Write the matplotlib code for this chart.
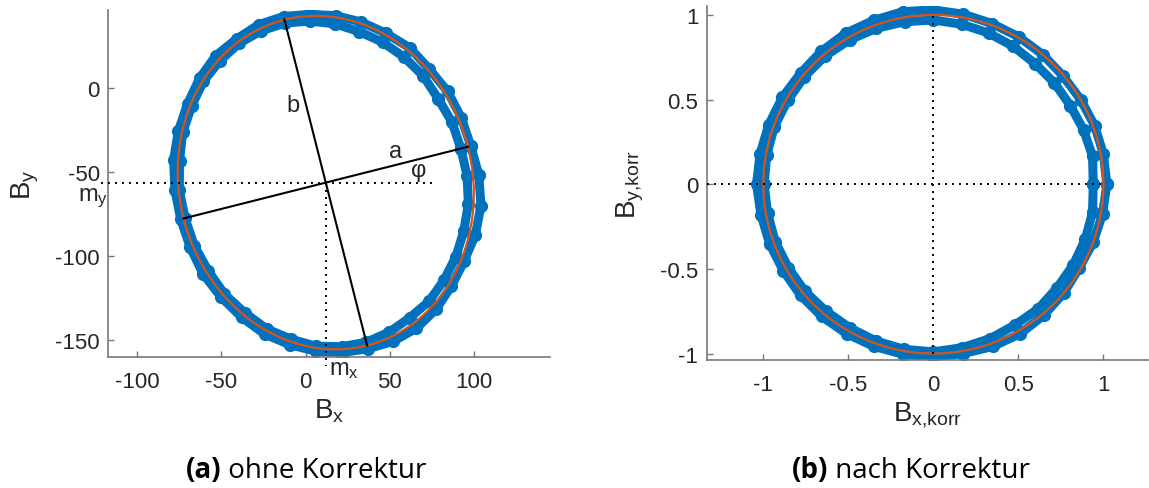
import numpy as np
import matplotlib
matplotlib.use('Agg')
import matplotlib.pyplot as plt
from matplotlib.patches import Ellipse

plt.rcParams['font.family'] = 'Liberation Sans'
plt.rcParams['mathtext.fontset'] = 'custom'
plt.rcParams['mathtext.rm'] = 'Liberation Sans'
plt.rcParams['mathtext.it'] = 'Liberation Sans:italic'
plt.rcParams['mathtext.bf'] = 'Liberation Sans:bold'
plt.rcParams['axes.unicode_minus'] = False

blue = '#0072BD'
orange = '#D95319'
txt = '#262626'

# --- raw magnetometer trace, uncorrected (two passes around the loop)
bx_raw_1 = [98.03, 92.38, 84.28, 73.38, 61.82, 47.77, 33.14, 17.85, 2.38, -13.02,
            -27.77, -40.93, -53.31, -62.83, -69.99, -75.44, -78.27, -77.50, -74.03, -68.38,
            -60.63, -49.99, -37.82, -24.31, -9.35, 6.09, 21.71, 37.02, 51.96, 65.71,
            77.31, 86.46, 93.99, 100.72, 104.02, 102.81]
by_raw_1 = [-34.73, -17.89, -2.24, 11.12, 23.73, 32.36, 39.07, 42.87, 43.66, 42.38,
            37.56, 28.97, 18.98, 5.55, -9.62, -25.76, -43.01, -60.79, -78.27, -95.11,
            -111.03, -124.79, -136.73, -146.68, -153.01, -156.86, -157.65, -155.38, -151.02, -143.22,
            -131.98, -118.25, -103.38, -87.69, -70.26, -52.14]
bx_raw_2 = [92.12, 86.86, 78.61, 69.73, 58.40, 45.65, 31.88, 17.56, 2.77, -12.04,
            -26.22, -39.37, -50.78, -60.64, -67.58, -72.88, -74.76, -74.88, -71.50, -66.01,
            -57.80, -48.16, -36.11, -23.07, -8.62, 6.27, 21.38, 36.04, 49.64, 61.81,
            73.19, 82.08, 89.16, 93.90, 96.57, 95.83]
by_raw_2 = [-36.23, -20.54, -6.49, 7.10, 18.23, 27.08, 33.39, 37.95, 39.69, 38.50,
            33.89, 26.45, 16.05, 3.74, -11.00, -26.66, -43.53, -60.67, -77.63, -93.97,
            -108.90, -122.78, -133.98, -143.60, -149.70, -153.91, -154.18, -151.50, -145.52, -136.94,
            -127.22, -114.62, -100.62, -85.29, -69.14, -52.48]

# fitted ellipse: centre, half axes, tilt (deg)
mx, my = 12.0, -56.5
a_fit, b_fit = 87.0, 100.0
phi_fit = 14.2

# --- corrected trace
bx_korr_1 = [1.020, 1.000, 0.949, 0.866, 0.762, 0.643, 0.503, 0.345, 0.177, 0.000,
             -0.180, -0.352, -0.515, -0.659, -0.781, -0.888, -0.968, -1.019, -1.040, -1.014,
             -0.963, -0.883, -0.781, -0.656, -0.510, -0.349, -0.177, 0.000, 0.176, 0.349,
             0.510, 0.649, 0.766, 0.857, 0.940, 0.995]
by_korr_1 = [0.000, 0.176, 0.345, 0.500, 0.640, 0.766, 0.870, 0.949, 1.004, 1.030,
             1.019, 0.968, 0.892, 0.785, 0.656, 0.513, 0.352, 0.180, 0.000, -0.179,
             -0.351, -0.510, -0.656, -0.781, -0.883, -0.958, -1.004, -1.020, -1.000, -0.958,
             -0.883, -0.774, -0.643, -0.495, -0.342, -0.175]
bx_korr_2 = [0.940, 0.936, 0.883, 0.805, 0.712, 0.598, 0.470, 0.325, 0.167, 0.000,
             -0.169, -0.335, -0.493, -0.636, -0.758, -0.857, -0.935, -0.980, -0.995, -0.975,
             -0.930, -0.853, -0.755, -0.630, -0.490, -0.337, -0.172, 0.000, 0.170, 0.332,
             0.480, 0.617, 0.728, 0.823, 0.893, 0.936]
by_korr_2 = [0.000, 0.165, 0.321, 0.465, 0.598, 0.712, 0.814, 0.893, 0.945, 0.970,
             0.960, 0.921, 0.853, 0.758, 0.636, 0.495, 0.340, 0.173, 0.000, -0.172,
             -0.339, -0.493, -0.633, -0.751, -0.849, -0.926, -0.975, -0.990, -0.965, -0.912,
             -0.831, -0.735, -0.611, -0.475, -0.325, -0.165]

ticks_a_x = [-100, -50, 0, 50, 100]
ticks_a_y = [-150, -100, -50, 0]
ticks_b = [-1, -0.5, 0, 0.5, 1]
ticklabels_b = ['-1', '-0.5', '0', '0.5', '1']

W, H = 1149, 489
fig = plt.figure(figsize=(W / 100, H / 100), dpi=100)


def add_ax(l, t, r, b):
    return fig.add_axes([l / W, 1 - b / H, (r - l) / W, (b - t) / H])


def style(ax):
    for s in ['top', 'right']:
        ax.spines[s].set_visible(False)
    for s in ['left', 'bottom']:
        ax.spines[s].set_color('#777777')
        ax.spines[s].set_linewidth(1.2)
    ax.tick_params(direction='in', length=4, width=1, color='#777777',
                   labelsize=16, labelcolor=txt)
    ax.tick_params(axis='x', pad=10)
    ax.tick_params(axis='y', pad=6)


def trace(ax, x, y):
    ax.plot(np.append(x, x[0]), np.append(y, y[0]), '-o', color=blue, lw=6.5,
            ms=9.5, mew=0, solid_joinstyle='round', zorder=2)


# ---------------- (a) ohne Korrektur
ax1 = add_ax(108.3, 11, 550, 358.3)
style(ax1)
trace(ax1, bx_raw_1, by_raw_1)
trace(ax1, bx_raw_2, by_raw_2)
ax1.add_patch(Ellipse((mx, my), 2 * a_fit, 2 * b_fit, angle=phi_fit, fill=False,
                      ec=orange, lw=1.6, zorder=3))

p = np.deg2rad(phi_fit)
ua = np.array([np.cos(p), np.sin(p)])
ub = np.array([-np.sin(p), np.cos(p)])
c = np.array([mx, my])
for u, r in [(ua, a_fit), (ub, b_fit)]:
    e1, e2 = c - r * u, c + r * u
    ax1.plot([e1[0], e2[0]], [e1[1], e2[1]], color='k', lw=1.5, zorder=4)

dots = dict(color='k', lw=1.4, ls=(0, (1, 2.6)), zorder=4, clip_on=False)
ax1.plot([-121.4, 76.7], [my, my], **dots)
ax1.plot([mx, mx], [my, -165.6], **dots)

ax1.text(-7.5, -10.4, 'b', fontsize=17, color=txt, ha='center', va='center')
ax1.text(53.6, -37.5, 'a', fontsize=17, color=txt, ha='center', va='center')
ax1.text(67.3, -49.0, 'φ', fontsize=17, color=txt, ha='center', va='center')
ax1.text(-135, -67.0, r'$\mathrm{m_y}$', fontsize=17, color=txt, ha='left',
         va='baseline', clip_on=False)
ax1.text(14.0, -170.4, r'$\mathrm{m_x}$', fontsize=17, color=txt, ha='left',
         va='baseline', clip_on=False)

ax1.set_xlim(-117, 145)
ax1.set_ylim(-160.5, 46.25)
ax1.set_xticks(ticks_a_x)
ax1.set_yticks(ticks_a_y)
ax1.set_xlabel(r'$\mathrm{B_x}$', fontsize=20, color=txt, labelpad=3)
ax1.set_ylabel(r'$\mathrm{B_y}$', fontsize=20, color=txt, labelpad=10)

# ---------------- (b) nach Korrektur
ax2 = add_ax(706.7, 7.3, 1148, 361)
style(ax2)
trace(ax2, bx_korr_1, by_korr_1)
trace(ax2, bx_korr_2, by_korr_2)
ax2.add_patch(Ellipse((0, 0), 2, 2, angle=0, fill=False, ec=orange, lw=1.6, zorder=3))
ax2.plot([-1.333, 1], [0, 0], **dots)
ax2.plot([0, 0], [-1, 1], **dots)

ax2.set_xlim(-1.333, 1.262)
ax2.set_ylim(-1.038, 1.051)
ax2.set_xticks(ticks_b)
ax2.set_xticklabels(ticklabels_b)
ax2.set_yticks(ticks_b)
ax2.set_yticklabels(ticklabels_b)
ax2.set_xlabel(r'$\mathrm{B_{x{,}korr}}$', fontsize=20, color=txt, labelpad=3)
ax2.set_ylabel(r'$\mathrm{B_{y{,}korr}}$', fontsize=20, color=txt, labelpad=10)


# captions with bold panel letter
def caption(xc, yc, tag, rest):
    kw = dict(fontsize=20, family='Open Sans', color='black', va='center')
    t1 = fig.text(0, yc / H, tag, weight='bold', **kw)
    t2 = fig.text(0, yc / H, rest, **kw)
    fig.canvas.draw()
    r = fig.canvas.get_renderer()
    w1 = t1.get_window_extent(r).width
    w2 = t2.get_window_extent(r).width
    x0 = xc - (w1 + w2) / 2
    t1.set_x(x0 / W)
    t2.set_x((x0 + w1) / W)


caption(306, H - 471, '(a)', ' ohne Korrektur')
caption(911, H - 471, '(b)', ' nach Korrektur')

fig.savefig('out.png', dpi=100)
